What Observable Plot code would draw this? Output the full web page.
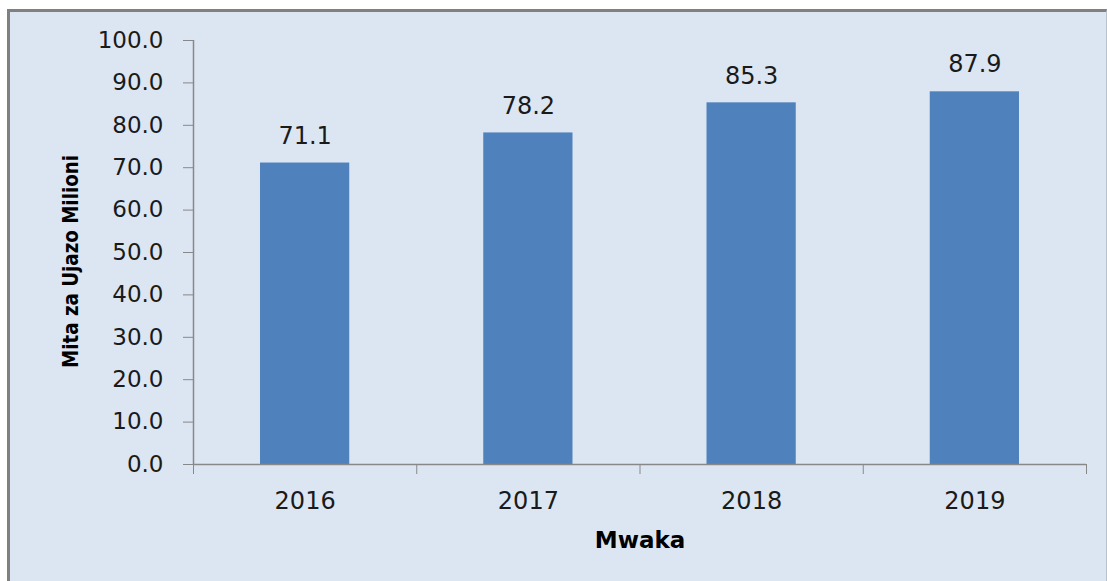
<!DOCTYPE html>
<html><head><meta charset="utf-8">
<script src="https://cdn.jsdelivr.net/npm/d3@7"></script>
<script src="https://cdn.jsdelivr.net/npm/@observablehq/plot@0.6"></script>
<style>
html,body{margin:0;padding:0;background:#fff;}
#box{position:absolute;left:7px;top:9px;width:1100px;height:572px;background:#dce6f2;border-left:3px solid #808080;border-top:3px solid #808080;border-right:1px solid #b8c2cc;box-sizing:border-box;overflow:hidden;}
#box svg{display:block;}
</style></head><body><div id="box"></div>
<script>
const years = ["2016", "2017", "2018", "2019"];
const values = [71.1, 78.2, 85.3, 87.9];
const yTicks = [0, 10, 20, 30, 40, 50, 60, 70, 80, 90, 100];
const yTitle = "Mita za Ujazo Milioni";
const xTitle = "Mwaka";

const data = years.map((year, i) => ({year, i, value: values[i]}));
const boundaries = d3.range(years.length + 1);
const centers = years.map((_, i) => i + 0.5);

const gray = "#888888";
const ink = "#1a1a1a";

const chart = Plot.plot({
  width: 1096,
  height: 569,
  marginLeft: 183,
  marginRight: 20,
  marginTop: 28,
  marginBottom: 117,
  style: {background: "transparent", fontFamily: "'DejaVu Sans', Verdana, sans-serif", color: ink},
  x: {domain: [0, years.length], axis: null},
  y: {domain: [0, 100], axis: null},
  marks: [
    Plot.rectY(data, {x1: "i", x2: d => d.i + 1, y: "value", fill: "#4f81bd", insetLeft: 67, insetRight: 67}),
    Plot.ruleX([0], {stroke: gray, strokeWidth: 1.5}),
    Plot.ruleY([0], {stroke: gray, strokeWidth: 1.5}),
    Plot.axisY({ticks: yTicks, tickFormat: d => d.toFixed(1), tickSize: 10, tickPadding: 20, fontSize: 23, stroke: gray, fill: ink, label: null}),
    Plot.axisX({ticks: boundaries, tickFormat: () => "", tickSize: 10, stroke: gray, label: null}),
    Plot.axisX({ticks: centers, tickFormat: v => years[Math.floor(v)], tickSize: 0, tickPadding: 27, fontSize: 24, fill: ink, label: null}),
    Plot.text(data, {x: d => d.i + 0.5, y: "value", text: d => d.value.toFixed(1), dy: -27, lineAnchor: "middle", fontSize: 24, fill: ink}),
    Plot.text([yTitle], {text: d => d, frameAnchor: "left", rotate: -90, dx: -122, dy: 9, textAnchor: "middle", lineAnchor: "middle", fontWeight: "bold", fontSize: 21, fill: "#000", className: "ytitle"}),
    Plot.text([xTitle], {text: d => d, frameAnchor: "bottom", dy: 76, textAnchor: "middle", lineAnchor: "middle", fontWeight: "bold", fontSize: 23, fill: "#000"})
  ]
});
d3.select(chart).selectAll(".ytitle text").attr("textLength", 213).attr("lengthAdjust", "spacingAndGlyphs");
document.getElementById("box").appendChild(chart);
</script>
</body></html>
